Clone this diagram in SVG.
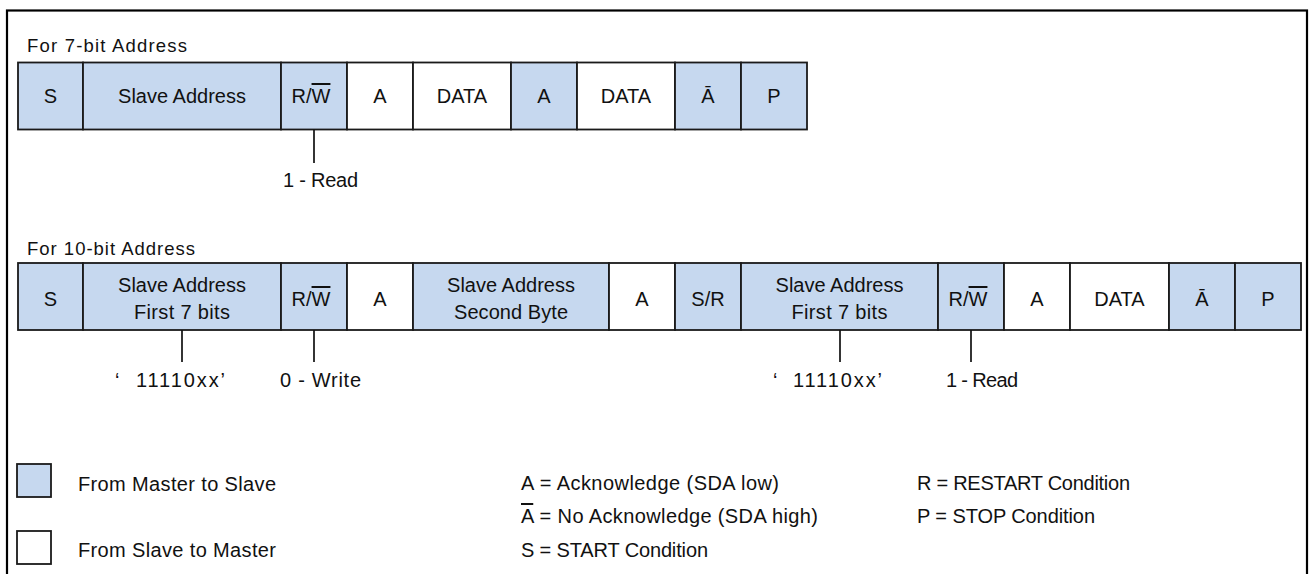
<svg xmlns="http://www.w3.org/2000/svg" width="1309" height="574" viewBox="0 0 1309 574">
<style>
.b{fill:#c6d8ef;stroke:#1a1a1a;stroke-width:1.8}
.w{fill:#ffffff;stroke:#1a1a1a;stroke-width:1.8}
text{font-family:"Liberation Sans",Arial,sans-serif;font-size:20px;fill:#111}
.c{text-anchor:middle}
.h{font-size:18.5px}
.ol{text-decoration:overline}
.tick{stroke:#111;stroke-width:1.7;fill:none}
</style>
<rect x="0" y="0" width="1309" height="574" fill="#ffffff"/>
<rect x="7" y="10.5" width="1300" height="620" fill="none" stroke="#000" stroke-width="2.2"/>

<g id="headings">
<text class="h" x="27" y="52" textLength="160">For 7-bit Address</text>
<text class="h" x="27" y="255" textLength="168">For 10-bit Address</text>
</g>

<g id="row7">
<g id="r7-s"><rect class="b" x="18" y="62.5" width="65" height="67"/><text class="c" x="50.5" y="103">S</text></g>
<g id="r7-addr"><rect class="b" x="83" y="62.5" width="198" height="67"/><text class="c" x="182" y="103">Slave Address</text></g>
<g id="r7-rw"><rect class="b" x="281" y="62.5" width="66" height="67"/><text class="c" x="311" y="103">R/<tspan class="ol">W</tspan></text></g>
<g id="r7-a1"><rect class="w" x="347" y="62.5" width="66" height="67"/><text class="c" x="380" y="103">A</text></g>
<g id="r7-d1"><rect class="w" x="413" y="62.5" width="98" height="67"/><text class="c" x="462" y="103">DATA</text></g>
<g id="r7-a2"><rect class="b" x="511" y="62.5" width="66" height="67"/><text class="c" x="544" y="103">A</text></g>
<g id="r7-d2"><rect class="w" x="577" y="62.5" width="98" height="67"/><text class="c" x="626" y="103">DATA</text></g>
<g id="r7-na"><rect class="b" x="675" y="62.5" width="66" height="67"/><text class="c" x="708" y="103">Ā</text></g>
<g id="r7-p"><rect class="b" x="741" y="62.5" width="66" height="67"/><text class="c" x="774" y="103">P</text></g>
</g>

<g id="row10">
<g id="r10-s"><rect class="b" x="18" y="263" width="65" height="67"/><text class="c" x="50.5" y="306">S</text></g>
<g id="r10-addr1"><rect class="b" x="83" y="263" width="198" height="67"/><text class="c" x="182" y="292">Slave Address</text><text class="c" x="182" y="319" textLength="96">First 7 bits</text></g>
<g id="r10-rw1"><rect class="b" x="281" y="263" width="66" height="67"/><text class="c" x="311" y="306">R/<tspan class="ol">W</tspan></text></g>
<g id="r10-a1"><rect class="w" x="347" y="263" width="66" height="67"/><text class="c" x="380" y="306">A</text></g>
<g id="r10-addr2"><rect class="b" x="413" y="263" width="196" height="67"/><text class="c" x="511" y="292">Slave Address</text><text class="c" x="511" y="319" textLength="114">Second Byte</text></g>
<g id="r10-a2"><rect class="w" x="609" y="263" width="66" height="67"/><text class="c" x="642" y="306">A</text></g>
<g id="r10-sr"><rect class="b" x="675" y="263" width="66" height="67"/><text class="c" x="708" y="306">S/R</text></g>
<g id="r10-addr3"><rect class="b" x="741" y="263" width="197" height="67"/><text class="c" x="839.5" y="292">Slave Address</text><text class="c" x="839.5" y="319" textLength="96">First 7 bits</text></g>
<g id="r10-rw2"><rect class="b" x="938" y="263" width="66" height="67"/><text class="c" x="968" y="306">R/<tspan class="ol">W</tspan></text></g>
<g id="r10-a3"><rect class="w" x="1004" y="263" width="66" height="67"/><text class="c" x="1037" y="306">A</text></g>
<g id="r10-d"><rect class="w" x="1070" y="263" width="99" height="67"/><text class="c" x="1119.5" y="306">DATA</text></g>
<g id="r10-na"><rect class="b" x="1169" y="263" width="66" height="67"/><text class="c" x="1202" y="306">Ā</text></g>
<g id="r10-p"><rect class="b" x="1235" y="263" width="66" height="67"/><text class="c" x="1268" y="306">P</text></g>
</g>

<g id="connectors">
<line class="tick" x1="314" y1="129.5" x2="314" y2="163"/>
<line class="tick" x1="182" y1="330" x2="182" y2="362"/>
<line class="tick" x1="314" y1="330" x2="314" y2="362"/>
<line class="tick" x1="840" y1="330" x2="840" y2="362"/>
<line class="tick" x1="971" y1="330" x2="971" y2="362"/>
</g>

<g id="labels">
<text x="283" y="187" textLength="75">1 - Read</text>
<text x="115" y="387">‘<tspan x="136" textLength="89">11110xx’</tspan></text>
<text x="280" y="387" textLength="81">0 - Write</text>
<text x="773" y="387">‘<tspan x="793" textLength="89">11110xx’</tspan></text>
<text x="946" y="387" textLength="72">1 - Read</text>
</g>

<g id="legend">
<g id="leg-m2s"><rect class="b" x="17" y="464" width="34" height="33"/><text x="78" y="490.5" textLength="198">From Master to Slave</text></g>
<g id="leg-s2m"><rect class="w" x="17" y="531" width="34" height="33"/><text x="78" y="557" textLength="198">From Slave to Master</text></g>
<text x="521" y="490" textLength="258">A = Acknowledge (SDA low)</text>
<text x="521" y="523" textLength="297"><tspan class="ol">A</tspan> = No Acknowledge (SDA high)</text>
<text x="521" y="557" textLength="187">S = START Condition</text>
<text x="917" y="490" textLength="213">R = RESTART Condition</text>
<text x="917" y="523" textLength="178">P = STOP Condition</text>
</g>
</svg>
